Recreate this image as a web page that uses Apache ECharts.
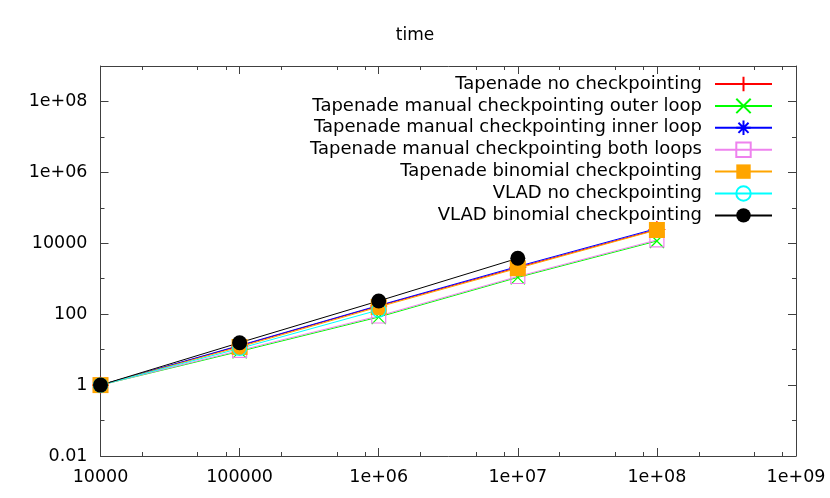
<!DOCTYPE html>
<html>
<head>
<meta charset="utf-8">
<script src="https://cdn.jsdelivr.net/npm/echarts@6/dist/echarts.min.js"></script>
<style>
  html, body { margin: 0; padding: 0; background: #fff; }
  #main { width: 830px; height: 498px; }
</style>
</head>
<body>
<div id="main"></div>
<script>
// problem sizes (x) and run times (y)
const sizes = [1e4, 1e5, 1e6, 1e7, 1e8];

const tapenadeNoCkp = [1, 12.7, 170, 2077, 24500];
const tapenadeOuter = [1, 8.9, 83, 1090, 11600];
const tapenadeInner = [1, 13.1, 176, 2217, 26200];
const tapenadeBoth = [1, 9.5, 89, 1157, 12400];
const tapenadeBinomial = [1, 11.9, 160, 1972, 23700];
const vladNoCkp = [1, 10.8, 131];
const vladBinomial = [1, 15.7, 236, 3775];

const xTickLabels = ["10000", "100000", "1e+06", "1e+07", "1e+08", "1e+09"];
const yTickLabels = ["0.01", "1", "100", "10000", "1e+06", "1e+08"];

const xMajor = [1e4, 1e5, 1e6, 1e7, 1e8, 1e9];
const xMinor = [];
for (let e = 4; e < 9; e++) {
  [2, 5, 8].forEach(m => xMinor.push(m * Math.pow(10, e)));
}
const yMajor = [1e-2, 1, 1e2, 1e4, 1e6, 1e8];
const yMinor = [1e-1, 1e1, 1e3, 1e5, 1e7, 1e9];

const AXIS_COLOR = "#404040";
const FONT = "DejaVu Sans";

function pairs(ys) {
  return ys.map((y, i) => [sizes[i], y]);
}

function xAx(pos, ticks, len, labels) {
  return {
    type: "log", logBase: 10, min: 1e4, max: 1e9, position: pos,
    axisLine: { show: len > 5, lineStyle: { color: AXIS_COLOR, width: 1 } },
    axisTick: { show: true, inside: true, length: len, customValues: ticks,
      lineStyle: { color: AXIS_COLOR, width: 1 } },
    axisLabel: labels ? {
      show: true, customValues: xMajor, margin: 12, color: "#000",
      fontFamily: FONT, fontSize: 17.5,
      formatter: v => xTickLabels[Math.round(Math.log10(v)) - 4]
    } : { show: false },
    splitLine: { show: false }, minorTick: { show: false }
  };
}

function yAx(pos, ticks, len, labels) {
  return {
    type: "log", logBase: 10, min: 1e-2, max: 1e9, position: pos,
    axisLine: { show: len > 5, lineStyle: { color: AXIS_COLOR, width: 1 } },
    axisTick: { show: true, inside: true, length: len, customValues: ticks,
      lineStyle: { color: AXIS_COLOR, width: 1 } },
    axisLabel: labels ? {
      show: true, customValues: yMajor, margin: 13, color: "#000",
      fontFamily: FONT, fontSize: 17.5,
      formatter: v => yTickLabels[Math.round((Math.log10(v) + 2) / 2)]
    } : { show: false },
    splitLine: { show: false }, minorTick: { show: false }
  };
}

function mkSeries(name, ys, color, symbol, size, hollow) {
  return {
    name: name, type: "line", data: pairs(ys),
    symbol: symbol, symbolSize: size, showAllSymbol: true,
    lineStyle: { color: color, width: 1 },
    itemStyle: {
      color: hollow ? "rgba(0,0,0,0)" : color,
      borderColor: color, borderWidth: hollow ? 1.2 : 0
    },
    emphasis: { disabled: true }
  };
}

const chart = echarts.init(document.getElementById("main"), null, { renderer: "canvas" });

chart.setOption({
  animation: false,
  backgroundColor: "#fff",
  title: {
    text: "time", left: "center", top: 22,
    textStyle: { fontFamily: FONT, fontSize: 17, fontWeight: "normal", color: "#000" }
  },
  grid: { left: 100.5, right: 34, top: 66, bottom: 42 },
  legend: {
    orient: "vertical", align: "right", right: 52, top: 70,
    itemWidth: 57, itemHeight: 18, itemGap: 3.9,
    textStyle: { fontFamily: FONT, fontSize: 18, color: "#000", padding: [0, 8, 0, 0] }
  },
  xAxis: [
    xAx("bottom", xMajor, 8, true),
    xAx("bottom", xMinor, 4, false),
    xAx("top", xMajor, 8, false),
    xAx("top", xMinor, 4, false)
  ],
  yAxis: [
    yAx("left", yMajor, 8, true),
    yAx("left", yMinor, 4, false),
    yAx("right", yMajor, 8, false),
    yAx("right", yMinor, 4, false)
  ],
  series: [
    mkSeries("Tapenade no checkpointing", tapenadeNoCkp, "#ff0000",
      "path://M5,0L5,10M0,5L10,5", 17, true),
    mkSeries("Tapenade manual checkpointing outer loop", tapenadeOuter, "#00ff00",
      "path://M0,0L10,10M10,0L0,10", 14, true),
    mkSeries("Tapenade manual checkpointing inner loop", tapenadeInner, "#0000ff",
      "path://M5,0L5,10M0,5L10,5M1.5,1.5L8.5,8.5M8.5,1.5L1.5,8.5", 13, true),
    mkSeries("Tapenade manual checkpointing both loops", tapenadeBoth, "#ee82ee",
      "path://M0,0L10,0L10,10L0,10Z", 14, true),
    mkSeries("Tapenade binomial checkpointing", tapenadeBinomial, "#ffa500",
      "rect", 16, false),
    mkSeries("VLAD no checkpointing", vladNoCkp, "#00ffff",
      "circle", 14, true),
    mkSeries("VLAD binomial checkpointing", vladBinomial, "#000000",
      "circle", 15, false)
  ]
});
</script>
</body>
</html>
